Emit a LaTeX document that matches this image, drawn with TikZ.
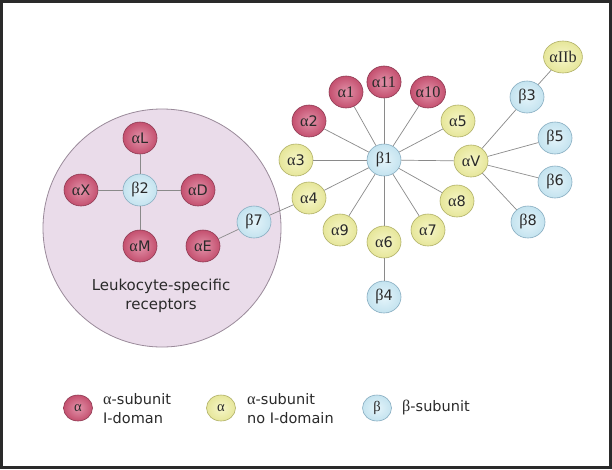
\documentclass[tikz,border=0pt]{standalone}
\usepackage{fontspec}
\setmainfont{DejaVu Sans}
\newfontfamily\grfont[Scale=1.12]{Liberation Serif}
\usetikzlibrary{shapes.geometric}
\newcommand\myal{{\grfont α}}
\newcommand\mybe{{\grfont β}}
\definecolor{redin}{HTML}{E293AA}
\definecolor{redout}{HTML}{C4506F}
\definecolor{redbd}{HTML}{8E3A52}
\definecolor{yelin}{HTML}{F6F6C8}
\definecolor{yelout}{HTML}{E6E69A}
\definecolor{yelbd}{HTML}{B0B066}
\definecolor{bluin}{HTML}{E4F4FA}
\definecolor{bluout}{HTML}{C4E3EF}
\definecolor{blubd}{HTML}{86ACC0}
\definecolor{leukfill}{HTML}{EADCEA}
\definecolor{leukbd}{HTML}{9A8A9A}
\definecolor{linec}{HTML}{8A8A8A}
\definecolor{txt}{HTML}{2A2A2A}
\definecolor{frame}{HTML}{2A2A2A}
\tikzset{
  sub/.style={ellipse, inner sep=0pt, minimum width=34pt, minimum height=32pt,
    font=\fontsize{14.5}{16}\selectfont, text=txt, line width=0.6pt},
  nred/.style={sub, draw=redbd, shading=radial, inner color=redin, outer color=redout},
  nyel/.style={sub, draw=yelbd, shading=radial, inner color=yelin, outer color=yelout},
  nblu/.style={sub, draw=blubd, shading=radial, inner color=bluin, outer color=bluout},
  lgd/.style={minimum width=29pt, minimum height=26pt, font=\fontsize{13}{14}\selectfont},
  conn/.style={draw=linec, line width=0.7pt},
  lbl/.style={font=\fontsize{14.5}{19}\selectfont, text=txt, align=left, anchor=west, inner sep=0pt}
}
\begin{document}
\begin{tikzpicture}[x=1pt, y=-1pt]
\useasboundingbox (0,0) rectangle (612,469);
\fill[white] (0,0) rectangle (612,469);
% big circle
\node[circle, minimum size=238pt, fill=leukfill, draw=leukbd, line width=0.8pt] (leuk) at (162,228) {};
\node[font=\fontsize{15}{19}\selectfont, text=txt, align=center] (leuktxt) at (161,296) {Leukocyte-specific\\receptors};
% leukocyte nodes
\node[nblu] (b2) at (140,190) {\mybe2};
\node[nred] (aL) at (140,138) {\myal L};
\node[nred] (aX) at (81,190) {\myal X};
\node[nred] (aD) at (198,190) {\myal D};
\node[nred] (aM) at (140,246) {\myal M};
\node[nred] (aE) at (203,246) {\myal E};
\node[nblu] (b7) at (254,222) {\mybe7};
% beta1 cluster
\node[nblu] (b1) at (384,160) {\mybe{\grfont 1}};
\node[nred] (a1) at (346,92) {\myal{\grfont 1}};
\node[nred] (a11) at (384,82) {\myal{\grfont 11}};
\node[nred] (a10) at (428,92) {\myal{\grfont 10}};
\node[nred] (a2) at (309,121) {\myal 2};
\node[nyel] (a5) at (458,121) {\myal 5};
\node[nyel] (a3) at (296,160) {\myal 3};
\node[nyel] (aV) at (471,161) {\myal V};
\node[nyel] (a4) at (309,198) {\myal 4};
\node[nyel] (a8) at (457,201) {\myal 8};
\node[nyel] (a9) at (340,230) {\myal 9};
\node[nyel] (a7) at (428,230) {\myal 7};
\node[nyel] (a6) at (384,242) {\myal 6};
\node[nblu] (b4) at (384,297) {\mybe4};
% alphaV cluster
\node[nblu] (b3) at (527,97) {\mybe3};
\node[nyel] (aIIb) at (563,57) {\myal{\grfont IIb}};
\node[nblu] (b5) at (555,138) {\mybe5};
\node[nblu] (b6) at (555,182) {\mybe6};
\node[nblu] (b8) at (528,222) {\mybe8};
% connectors
\foreach \n in {aL,aX,aD,aM} \draw[conn] (b2) -- (\n);
\draw[conn] (aE) -- (b7);
\draw[conn] (b7) -- (a4);
\foreach \n in {a1,a11,a10,a2,a5,a3,aV,a4,a8,a9,a7,a6} \draw[conn] (b1) -- (\n);
\draw[conn] (a6) -- (b4);
\foreach \n in {b3,b5,b6,b8} \draw[conn] (aV) -- (\n);
\draw[conn] (b3) -- (aIIb);
% legend
\node[nred, lgd] (lr) at (78,408) {\myal};
\node[lbl] (lrt) at (103,409) {\myal-subunit\\I-doman};
\node[nyel, lgd] (ly) at (221,408) {\myal};
\node[lbl] (lyt) at (247,409) {\myal-subunit\\no I-domain};
\node[nblu, lgd] (lb) at (377,408) {\mybe};
\node[lbl] (lbt) at (402,408) {\mybe-subunit};
% frame
\draw[frame, line width=3pt] (1.5,1.5) rectangle (610.5,467);
\end{tikzpicture}
\end{document}
